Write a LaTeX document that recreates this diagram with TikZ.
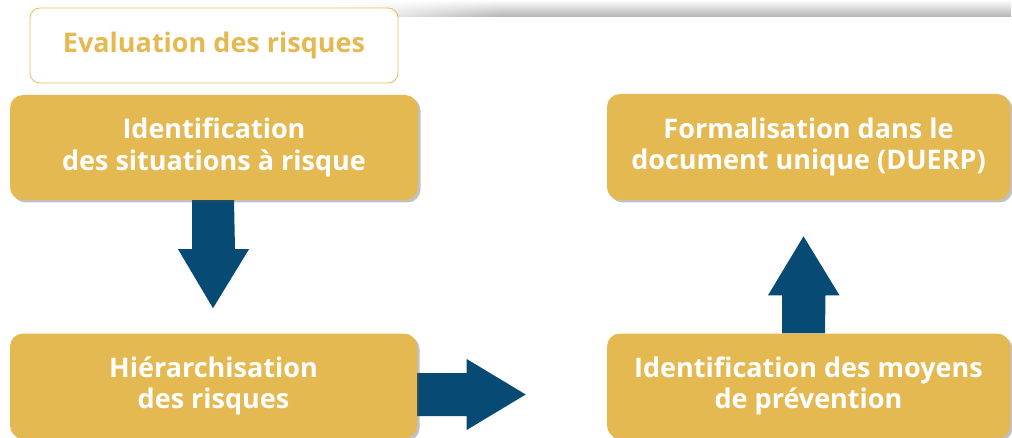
\documentclass[tikz,border=0pt]{standalone}
\usepackage{fontspec}
\setmainfont{Open Sans}
\usetikzlibrary{calc,shadows,fadings,backgrounds}
\definecolor{gold}{HTML}{E5B952}
\definecolor{goldline}{HTML}{E8BE5C}
\definecolor{navy}{HTML}{074A74}
\tikzset{
  stepbox/.style={fill=gold, rounded corners=13pt, align=center, text=white,
    font=\fontsize{27}{31.5}\selectfont\bfseries, inner sep=0pt,
    drop shadow={shadow xshift=2.5pt, shadow yshift=-2.5pt, opacity=0.35, fill=black!70}},
  titlebox/.style={draw=goldline, line width=0.8pt, fill=white, rounded corners=10pt,
    text=gold, font=\fontsize{27}{31}\selectfont\bfseries, inner sep=0pt},
  blockarrow/.style={fill=navy}
}
\begin{document}
\begin{tikzpicture}[x=1pt,y=-1pt]
\useasboundingbox (0,0) rectangle (1012,438);
\fill[black!30, path fading=north] (340,0) rectangle (1012,17);
\fill[white, path fading=east] (340,0) rectangle (500,17);
\node[titlebox, minimum width=368pt, minimum height=75pt] (eval) at (214,45.5) {Evaluation des risques};
\node[stepbox, minimum width=408pt, minimum height=105pt] (b1) at (214,147.5) {Identification\\des situations à risque};
\node[stepbox, minimum width=403pt, minimum height=106pt] (b3) at (808.5,147) {Formalisation dans le\\document unique (DUERP)};
\node[stepbox, minimum width=407pt, minimum height=105pt] (b2) at (213.5,386) {Hiérarchisation\\des risques};
\node[stepbox, minimum width=403pt, minimum height=105pt] (b4) at (808.5,386) {Identification des moyens\\de prévention};
\begin{scope}[on background layer]
% down arrow from b1
\fill[blockarrow] ($(b1.south)+(-22,0)$) -- ++(0,49) -- ++(-14,0)
  -- ($(b1.south)+(-1,108)$) -- ($(b1.south)+(35,49)$) -- ++(-14,0) -- ($(b1.south)+(20,0)$) -- cycle;
% right arrow from b2
\fill[blockarrow] ($(b2.east)+(-2,-13)$) -- ($(b2.east)+(49.5,-13)$) -- ++(0,-14)
  -- ($(b2.east)+(108.5,8.5)$) -- ($(b2.east)+(49.5,44)$) -- ++(0,-14) -- ($(b2.east)+(-2,30)$) -- cycle;
% up arrow from b4
\fill[blockarrow] ($(b4.north)+(-26.5,0)$) -- ++(0,-38) -- ++(-14,0)
  -- ($(b4.north)+(-5,-97)$) -- ($(b4.north)+(31,-38)$) -- ++(-14,0) -- ($(b4.north)+(16.5,0)$) -- cycle;
\end{scope}
\end{tikzpicture}
\end{document}
